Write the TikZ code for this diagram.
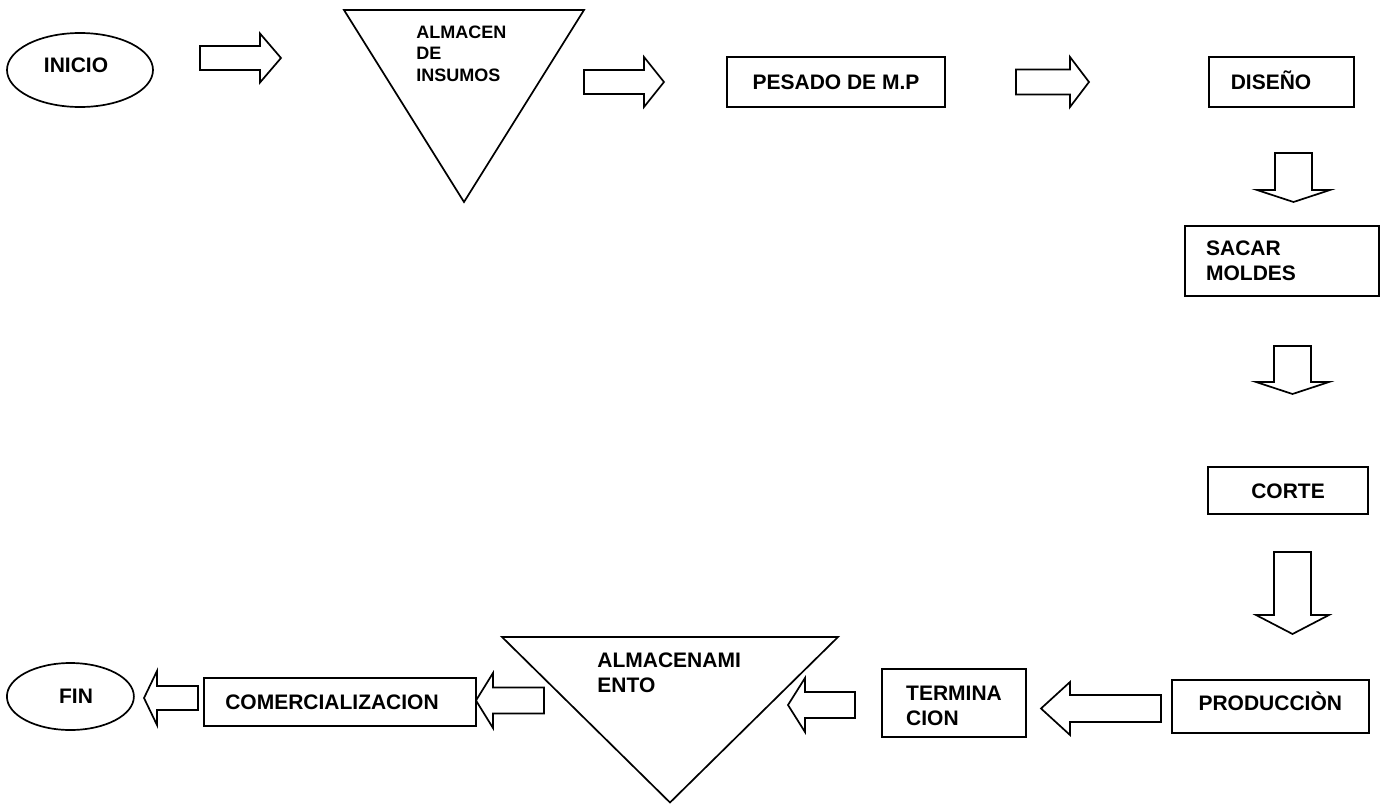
\documentclass[tikz,border=0pt]{standalone}
\usepackage{fontspec}
\setmainfont{Liberation Sans}
\usetikzlibrary{calc,shapes.geometric}
\tikzset{
  px/.style={x=0.5pt,y=-0.5pt},
  ln/.style={draw=black, line width=0.85pt, line join=miter},
  boxn/.style={ln, rectangle, inner sep=0pt, font=\bfseries\fontsize{10.5}{12.5}\selectfont, text height=7.5pt, text depth=0pt},
  mboxn/.style={ln, rectangle, inner sep=0pt, align=left, font=\bfseries\fontsize{10.5}{12.5}\selectfont},
  elln/.style={ln, ellipse, inner sep=0pt},
  lbl/.style={inner sep=0pt, font=\bfseries\fontsize{10.5}{12.5}\selectfont, text height=7.5pt, text depth=0pt},
  mlbl/.style={inner sep=0pt, align=left},
  blk/.style={ln, fill=white},
}
\newcommand\blkR[5]{\draw[blk] ($(#1)+(0,-#3)$) -- ($(#2)+(-#5,-#3)$) -- ($(#2)+(-#5,-#4)$) -- (#2) -- ($(#2)+(-#5,#4)$) -- ($(#2)+(-#5,#3)$) -- ($(#1)+(0,#3)$) -- cycle;}
\newcommand\blkL[5]{\draw[blk] ($(#1)+(0,-#3)$) -- ($(#2)+(#5,-#3)$) -- ($(#2)+(#5,-#4)$) -- (#2) -- ($(#2)+(#5,#4)$) -- ($(#2)+(#5,#3)$) -- ($(#1)+(0,#3)$) -- cycle;}
\newcommand\blkD[5]{\draw[blk] ($(#1)+(-#3,0)$) -- ($(#2)+(-#3,-#5)$) -- ($(#2)+(-#4,-#5)$) -- (#2) -- ($(#2)+(#4,-#5)$) -- ($(#2)+(#3,-#5)$) -- ($(#1)+(#3,0)$) -- cycle;}
\begin{document}
\begin{tikzpicture}[px]
\useasboundingbox (0,0) rectangle (1383,804);
% start / end ellipses
\node[elln, minimum width=73pt, minimum height=37pt] (inicio) at (80,70) {};
\node[lbl] (inicioT) at (76,65) {INICIO};
\node[elln, minimum width=63.5pt, minimum height=33.5pt] (fin) at (70.4,696.5) {};
\node[lbl] (finT) at (76,696) {FIN};
% storage triangles
\coordinate (t1a) at (344,10);
\coordinate (t1b) at (584,10);
\coordinate (t1c) at (464,202);
\draw[ln] (t1a) -- (t1b) -- (t1c) -- cycle;
\node[mlbl, anchor=west, font=\bfseries\fontsize{9}{10.8}\selectfont] (t1T) at (416,53.5) {ALMACEN\\DE\\INSUMOS};
\coordinate (t2a) at (502,637);
\coordinate (t2b) at (838,637);
\coordinate (t2c) at (670,802.5);
\draw[ln] (t2a) -- (t2b) -- (t2c) -- cycle;
\node[mlbl, anchor=west, font=\bfseries\fontsize{10.5}{12.5}\selectfont] (t2T) at (597,672.5) {ALMACENAMI\\ENTO};
% process boxes
\node[boxn, minimum width=109pt, minimum height=25pt] (pesado) at (836,82) {PESADO DE M.P};
\node[boxn, minimum width=72.5pt, minimum height=25pt] (diseno) at (1281.5,82) {DISEÑO\rule{10.5pt}{0pt}};
\node[mboxn, minimum width=97pt, minimum height=35pt] (sacar) at (1282,261) {SACAR\\MOLDES\rule{31pt}{0pt}};
\node[boxn, minimum width=80pt, minimum height=23.5pt] (corte) at (1288,490.5) {CORTE};
\node[boxn, minimum width=98.5pt, minimum height=26.5pt, text depth=3pt] (produccion) at (1270.3,706.3) {PRODUCCIÒN};
\node[mboxn, minimum width=72pt, minimum height=34pt] (termin) at (954,703) {\rule{0pt}{10.5pt}TERMINA\\CION};
\node[boxn, minimum width=136pt, minimum height=24pt] (comerc) at (340,702) {COMERCIALIZACION\rule{8pt}{0pt}};
% block arrows
\coordinate (a1s) at (200,58); \coordinate (a1e) at (281,58);
\blkR{a1s}{a1e}{12}{24.5}{21}
\coordinate (a2s) at (584,82); \coordinate (a2e) at (664,82);
\blkR{a2s}{a2e}{12}{25}{20}
\coordinate (a3s) at (1016,82); \coordinate (a3e) at (1089,82);
\blkR{a3s}{a3e}{12.5}{25}{19}
\coordinate (d1s) at (1293.5,153); \coordinate (d1e) at (1293.5,202);
\blkD{d1s}{d1e}{18.5}{36.5}{12}
\coordinate (d2s) at (1292.5,346); \coordinate (d2e) at (1292.5,394);
\blkD{d2s}{d2e}{18.5}{36.5}{12}
\coordinate (d3s) at (1292.5,552); \coordinate (d3e) at (1292.5,634);
\blkD{d3s}{d3e}{18.5}{36.5}{19}
\coordinate (l1s) at (1161,708.5); \coordinate (l1e) at (1041,708.5);
\blkL{l1s}{l1e}{13.5}{26.5}{29}
\coordinate (l2s) at (855,705); \coordinate (l2e) at (788,705);
\blkL{l2s}{l2e}{13}{27}{17}
\coordinate (l3s) at (544,700.5); \coordinate (l3e) at (476,700.5);
\blkL{l3s}{l3e}{13}{27.5}{17}
\coordinate (l4s) at (198,698); \coordinate (l4e) at (144,698);
\blkL{l4s}{l4e}{12}{27}{13}
\end{tikzpicture}
\end{document}
